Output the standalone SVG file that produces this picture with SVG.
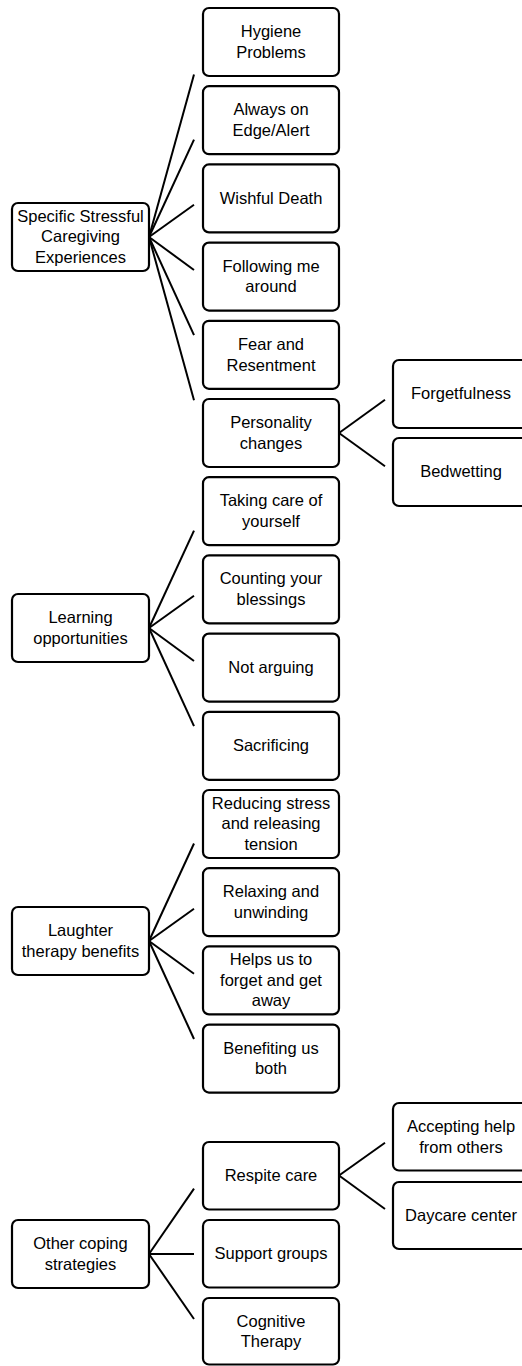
<svg xmlns="http://www.w3.org/2000/svg" width="522" height="1366" viewBox="0 0 522 1366">
<style>
.box{fill:#fff;stroke:#000;stroke-width:2.2}
.t{font-family:"Liberation Sans",Arial,sans-serif;font-size:16.5px;fill:#000;text-anchor:middle}
.c line{stroke:#000;stroke-width:2}
</style>
<rect width="522" height="1366" fill="#fff"/>
<g class="c" id="connectors">
<line x1="149" y1="237" x2="194" y2="74.5"/>
<line x1="149" y1="237" x2="194" y2="139.7"/>
<line x1="149" y1="237" x2="194" y2="204.8"/>
<line x1="149" y1="237" x2="194" y2="270"/>
<line x1="149" y1="237" x2="194" y2="335.2"/>
<line x1="149" y1="237" x2="194" y2="400.3"/>
<line x1="339" y1="433" x2="385" y2="399.8"/>
<line x1="339" y1="433" x2="385" y2="466.2"/>
<line x1="149" y1="628" x2="194" y2="530.7"/>
<line x1="149" y1="628" x2="194" y2="595.8"/>
<line x1="149" y1="628" x2="194" y2="661"/>
<line x1="149" y1="628" x2="194" y2="726.2"/>
<line x1="149" y1="941" x2="194" y2="843.5"/>
<line x1="149" y1="941" x2="194" y2="908.7"/>
<line x1="149" y1="941" x2="194" y2="973.8"/>
<line x1="149" y1="941" x2="194" y2="1039"/>
<line x1="149" y1="1254" x2="194" y2="1188.6"/>
<line x1="149" y1="1254" x2="194" y2="1254"/>
<line x1="149" y1="1254" x2="194" y2="1319"/>
<line x1="339" y1="1175.5" x2="385" y2="1142.7"/>
<line x1="339" y1="1175.5" x2="385" y2="1209"/>
</g>

<g id="specific"><rect class="box" x="12" y="203" width="137" height="68" rx="6"/>
<text class="t" x="80.5" y="221.6">Specific Stressful</text><text class="t" x="80.5" y="242.3">Caregiving</text><text class="t" x="80.5" y="263">Experiences</text></g>
<g id="learning"><rect class="box" x="12" y="594" width="137" height="68" rx="6"/>
<text class="t" x="80.5" y="623">Learning</text><text class="t" x="80.5" y="643.7">opportunities</text></g>
<g id="laughter"><rect class="box" x="12" y="907" width="137" height="68" rx="6"/>
<text class="t" x="80.5" y="936">Laughter</text><text class="t" x="80.5" y="956.7">therapy benefits</text></g>
<g id="other"><rect class="box" x="12" y="1220" width="137" height="68" rx="6"/>
<text class="t" x="80.5" y="1249">Other coping</text><text class="t" x="80.5" y="1269.7">strategies</text></g>

<g id="hygiene"><rect class="box" x="203" y="8" width="136" height="68" rx="6"/>
<text class="t" x="271" y="37">Hygiene</text><text class="t" x="271" y="57.7">Problems</text></g>
<g id="always"><rect class="box" x="203" y="86.2" width="136" height="68" rx="6"/>
<text class="t" x="271" y="115.2">Always on</text><text class="t" x="271" y="135.9">Edge/Alert</text></g>
<g id="wishful"><rect class="box" x="203" y="164.4" width="136" height="68" rx="6"/>
<text class="t" x="271" y="203.7">Wishful Death</text></g>
<g id="following"><rect class="box" x="203" y="242.6" width="136" height="68" rx="6"/>
<text class="t" x="271" y="271.6">Following me</text><text class="t" x="271" y="292.3">around</text></g>
<g id="fear"><rect class="box" x="203" y="320.8" width="136" height="68" rx="6"/>
<text class="t" x="271" y="349.8">Fear and</text><text class="t" x="271" y="370.5">Resentment</text></g>
<g id="personality"><rect class="box" x="203" y="399" width="136" height="68" rx="6"/>
<text class="t" x="271" y="428">Personality</text><text class="t" x="271" y="448.7">changes</text></g>
<g id="taking"><rect class="box" x="203" y="477.2" width="136" height="68" rx="6"/>
<text class="t" x="271" y="506.2">Taking care of</text><text class="t" x="271" y="526.9">yourself</text></g>
<g id="counting"><rect class="box" x="203" y="555.4" width="136" height="68" rx="6"/>
<text class="t" x="271" y="584.4">Counting your</text><text class="t" x="271" y="605.1">blessings</text></g>
<g id="notarguing"><rect class="box" x="203" y="633.6" width="136" height="68" rx="6"/>
<text class="t" x="271" y="672.9">Not arguing</text></g>
<g id="sacrificing"><rect class="box" x="203" y="711.8" width="136" height="68" rx="6"/>
<text class="t" x="271" y="751.1">Sacrificing</text></g>
<g id="reducing"><rect class="box" x="203" y="790" width="136" height="68" rx="6"/>
<text class="t" x="271" y="808.6">Reducing stress</text><text class="t" x="271" y="829.3">and releasing</text><text class="t" x="271" y="850">tension</text></g>
<g id="relaxing"><rect class="box" x="203" y="868.2" width="136" height="68" rx="6"/>
<text class="t" x="271" y="897.2">Relaxing and</text><text class="t" x="271" y="917.9">unwinding</text></g>
<g id="helps"><rect class="box" x="203" y="946.4" width="136" height="68" rx="6"/>
<text class="t" x="271" y="965">Helps us to</text><text class="t" x="271" y="985.7">forget and get</text><text class="t" x="271" y="1006.4">away</text></g>
<g id="benefiting"><rect class="box" x="203" y="1024.6" width="136" height="68" rx="6"/>
<text class="t" x="271" y="1053.6">Benefiting us</text><text class="t" x="271" y="1074.3">both</text></g>
<g id="respite"><rect class="box" x="203" y="1142" width="136" height="67.5" rx="6"/>
<text class="t" x="271" y="1181">Respite care</text></g>
<g id="support"><rect class="box" x="203" y="1220" width="136" height="67.5" rx="6"/>
<text class="t" x="271" y="1259">Support groups</text></g>
<g id="cognitive"><rect class="box" x="203" y="1298" width="136" height="66.5" rx="6"/>
<text class="t" x="271" y="1326.5">Cognitive</text><text class="t" x="271" y="1347.2">Therapy</text></g>

<g id="forgetfulness"><rect class="box" x="393" y="360" width="136" height="68" rx="6"/>
<text class="t" x="461" y="399.3">Forgetfulness</text></g>
<g id="bedwetting"><rect class="box" x="393" y="438" width="136" height="68" rx="6"/>
<text class="t" x="461" y="477.3">Bedwetting</text></g>
<g id="accepting"><rect class="box" x="393" y="1103" width="136" height="67.5" rx="6"/>
<text class="t" x="461" y="1132">Accepting help</text><text class="t" x="461" y="1152.7">from others</text></g>
<g id="daycare"><rect class="box" x="393" y="1182" width="136" height="67" rx="6"/>
<text class="t" x="461" y="1221">Daycare center</text></g>
</svg>
